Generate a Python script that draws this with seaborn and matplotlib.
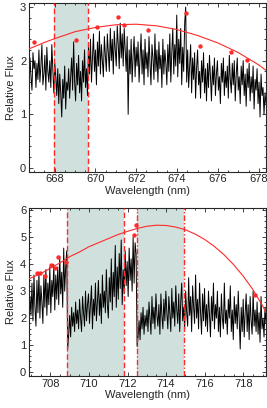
import numpy as np
import matplotlib
matplotlib.use("Agg")
import matplotlib.pyplot as plt
from matplotlib.ticker import MultipleLocator
import seaborn as sns

# --- panel 1 (668 nm region) ---
wl1_range = (666.75, 678.35)
flux1 = [
    1.55, 2.05, 1.7, 1.45, 2.15, 1.85, 2.0, 1.5, 1.95, 1.65,
    2.2, 1.6, 1.9, 2.3, 1.55, 1.75, 2.1, 1.45, 2.25, 1.8,
    1.6, 2.0, 1.5, 2.3, 1.85, 1.4, 1.95, 1.7, 1.35, 1.85,
    1.2, 1.75, 1.4, 0.95, 1.65, 1.3, 1.9, 1.1, 1.6, 1.45,
    1.85, 1.3, 1.7, 2.05, 1.45, 2.35, 1.6, 1.25, 1.95, 1.55,
    2.1, 1.4, 1.8, 1.25, 2.0, 1.6, 2.2, 1.5, 1.85, 1.35,
    2.25, 1.75, 2.4, 1.6, 2.05, 2.5, 1.8, 2.2, 1.55, 2.35,
    1.9, 2.55, 1.75, 2.3, 2.0, 1.7, 2.45, 2.1, 1.8, 2.5,
    2.15, 1.8, 2.6, 2.0, 2.4, 1.75, 2.55, 2.2, 1.9, 2.65,
    2.3, 1.85, 2.7, 2.05, 2.5, 1.9, 2.6, 2.2, 1.8, 2.45,
    1.0, 2.2, 1.75, 2.4, 1.6, 2.1, 2.45, 1.7, 2.25, 1.9,
    2.35, 1.6, 2.05, 2.5, 1.75, 2.2, 1.55, 2.4, 1.85, 2.15,
    1.7, 2.45, 1.95, 1.55, 2.3, 2.05, 1.65, 2.5, 1.8, 2.2,
    1.6, 2.35, 1.85, 2.1, 1.5, 2.4, 1.75, 2.2, 1.95, 1.55,
    2.3, 1.8, 2.5, 1.6, 2.15, 2.6, 1.75, 2.3, 1.9, 2.85,
    1.7, 2.4, 1.95, 2.6, 1.55, 2.25, 1.8, 2.7, 3.0, 1.6,
    2.2, 1.5, 1.9, 2.3, 1.4, 2.05, 1.65, 2.15, 1.3, 1.85,
    2.2, 1.55, 1.8, 1.3, 2.0, 1.6, 2.15, 1.4, 1.85, 1.25,
    1.95, 1.5, 2.1, 1.7, 1.25, 1.9, 1.55, 2.05, 1.35, 1.75,
    2.0, 1.45, 1.7, 1.2, 1.95, 1.6, 2.05, 1.35, 1.8, 1.5,
    1.9, 1.3, 2.1, 1.65, 1.4, 1.95, 1.55, 2.0, 1.25, 1.75,
    2.05, 1.45, 1.7, 1.2, 1.9, 1.55, 2.0, 1.35, 1.75, 1.15,
    1.85, 1.5, 1.95, 1.25, 1.7, 1.4, 1.9, 1.1, 1.65, 1.45,
    1.85, 1.2, 1.6, 0.95, 1.75, 1.35, 1.5, 1.0, 1.4, 1.2,
]
cont1_wl = [666.75, 667.5, 668, 669, 670, 671, 672, 673, 674, 675, 676, 677, 678, 678.35]
cont1_fl = [2.22, 2.34, 2.41, 2.54, 2.62, 2.67, 2.68, 2.65, 2.58, 2.47, 2.33, 2.15, 1.92, 1.82]
pts1_wl = [666.98, 669.04, 670.09, 671.13, 671.38, 672.58, 674.43, 675.11, 676.64, 677.40]
pts1_fl = [2.34, 2.39, 2.63, 2.81, 2.67, 2.57, 2.89, 2.27, 2.17, 2.02]
band1 = (667.95, 669.65)

# --- panel 2 (708 nm region) ---
wl2_range = (706.9, 719.17)
flux2 = [
    1.6, 2.8, 2.1, 3.3, 1.9, 3.6, 2.4, 1.7, 3.4, 2.2,
    3.7, 2.0, 3.2, 2.6, 1.8, 3.6, 2.4, 3.8, 2.1, 3.3,
    2.5, 3.9, 2.2, 3.4, 2.8, 4.0, 2.3, 3.6, 2.7, 3.9,
    2.5, 4.3, 2.9, 3.7, 2.4, 4.6, 3.0, 3.9, 4.5, 0.85,
    1.4, 2.1, 1.3, 2.4, 1.7, 2.2, 1.5, 2.6, 1.8, 2.3,
    1.6, 2.7, 2.0, 1.5, 2.8, 2.2, 1.7, 3.0, 1.9, 2.5,
    2.9, 1.8, 2.5, 3.2, 1.6, 2.7, 2.1, 3.3, 1.9, 2.6,
    3.4, 2.1, 2.9, 1.8, 3.6, 2.4, 3.0, 2.2, 3.8, 2.5,
    2.0, 3.5, 2.6, 4.2, 2.3, 3.7, 2.8, 4.7, 2.4, 3.9,
    2.7, 4.4, 3.1, 4.9, 2.5, 3.8, 2.9, 4.5, 3.2, 4.1,
    2.8, 4.6, 3.4, 4.2, 3.0, 5.0, 3.3, 4.8, 4.4, 0.95,
    1.3, 1.9, 1.2, 2.2, 1.6, 2.4, 1.4, 2.1, 1.7, 2.3,
    1.5, 2.6, 2.0, 1.4, 2.8, 1.8, 2.4, 1.6, 2.9, 2.1,
    1.7, 2.5, 1.4, 2.9, 2.1, 1.6, 2.7, 1.9, 3.0, 2.2,
    1.6, 2.8, 2.2, 1.5, 3.1, 2.0, 2.6, 1.7, 3.2, 2.3,
    1.8, 2.9, 1.5, 2.6, 3.3, 1.9, 2.4, 1.6, 3.0, 2.2,
    1.7, 3.5, 2.1, 2.8, 1.5, 3.2, 2.4, 1.8, 3.6, 2.0,
    2.7, 1.6, 3.3, 2.2, 1.4, 2.9, 1.9, 3.1, 1.7, 2.5,
    1.5, 3.0, 2.1, 1.3, 2.8, 1.9, 3.3, 1.6, 2.5, 2.0,
    3.0, 1.5, 2.4, 1.3, 2.9, 2.0, 1.6, 3.3, 1.8, 2.3,
    1.4, 2.7, 2.0, 3.2, 1.5, 2.3, 1.2, 2.8, 1.8, 2.5,
    1.6, 3.0, 1.9, 0.85, 2.4, 1.5, 2.7, 1.3, 2.2, 2.9,
    1.5, 2.5, 1.2, 2.8, 1.9, 1.4, 3.0, 1.7, 2.3, 1.5,
    2.6, 1.4, 2.2, 1.1, 2.8, 1.6, 2.0, 1.3, 2.4, 1.8,
]
cont2_wl = [706.9, 707.5, 708.0, 708.5, 709.0, 709.5, 710.0, 710.5, 711.0, 711.5, 712.0,
            712.5, 713.0, 713.5, 714.0, 714.5, 715.0, 715.5, 716.0, 716.5, 717.0, 717.5,
            718.0, 718.5, 719.0, 719.17]
cont2_fl = [3.46, 3.65, 3.85, 4.05, 4.28, 4.45, 4.65, 4.8, 4.95, 5.1, 5.22,
            5.33, 5.41, 5.45, 5.44, 5.38, 5.28, 5.12, 4.92, 4.66, 4.35, 3.98,
            3.55, 3.05, 2.45, 2.2]
pts2_wl = [707.34, 707.49, 707.71, 708.03, 708.27, 708.40, 708.79, 712.32, 712.42, 718.61]
pts2_fl = [3.67, 3.69, 3.58, 3.97, 3.85, 4.28, 4.07, 5.10, 5.47, 2.87]
bands2 = [(708.89, 711.81), (712.47, 714.92)]

sns.set_style("ticks")
plt.rcParams["font.family"] = ["Liberation Sans", "DejaVu Sans"]
plt.rcParams["font.size"] = 8

fig = plt.figure(figsize=(2.67, 4.08), dpi=100)
ax1 = fig.add_axes([29 / 267, 1 - 171.7 / 408, 237 / 267, 168.4 / 408])
ax2 = fig.add_axes([29 / 267, 1 - 376 / 408, 237 / 267, 168.3 / 408])

band_col = "#cfe0dd"
red = "#ff2a2a"


def style(ax, xlim, ylim):
    ax.set_xlim(*xlim)
    ax.set_ylim(*ylim)
    ax.xaxis.set_major_locator(MultipleLocator(2))
    ax.xaxis.set_minor_locator(MultipleLocator(0.5))
    ax.yaxis.set_major_locator(MultipleLocator(1))
    ax.yaxis.set_minor_locator(MultipleLocator(0.2))
    ax.tick_params(which="both", direction="in", top=True, right=True,
                   labelsize=8, width=0.6, pad=2)
    ax.tick_params(which="major", length=3)
    ax.tick_params(which="minor", length=1.5)
    for s in ax.spines.values():
        s.set_linewidth(0.8)
        s.set_visible(True)
    ax.set_xlabel("Wavelength (nm)", fontsize=8, labelpad=1)
    ax.set_ylabel("Relative Flux", fontsize=8, labelpad=3)


# panel 1
ax1.axvspan(*band1, color=band_col, lw=0, zorder=0)
wl1 = np.linspace(wl1_range[0], wl1_range[1], len(flux1))
sns.lineplot(x=wl1, y=flux1, color="black", lw=0.7, ax=ax1, zorder=2)
for v in band1:
    ax1.axvline(v, color=red, lw=1.0, ls=(0, (4, 2)), zorder=3)
sns.lineplot(x=cont1_wl, y=cont1_fl, color=red, lw=0.8, ax=ax1, zorder=4)
sns.scatterplot(x=pts1_wl, y=pts1_fl, color=red, s=10, linewidth=0, ax=ax1, zorder=5)
style(ax1, wl1_range, (-0.07, 3.07))

# panel 2
for b in bands2:
    ax2.axvspan(*b, color=band_col, lw=0, zorder=0)
wl2 = np.linspace(wl2_range[0], wl2_range[1], len(flux2))
sns.lineplot(x=wl2, y=flux2, color="black", lw=0.7, ax=ax2, zorder=2)
ax2.axvline(bands2[0][0], color=red, lw=1.0, ls=(0, (4, 2)), zorder=3)
ax2.axvline(bands2[0][1], color=red, lw=1.0, ls=(0, (4, 2)), zorder=3)
ax2.axvline(bands2[1][0], color=red, lw=1.0, ls=(0, (4, 1.5, 1, 1.5)), zorder=3)
ax2.axvline(bands2[1][1], color=red, lw=1.0, ls=(0, (4, 1.5, 1, 1.5)), zorder=3)
sns.lineplot(x=cont2_wl, y=cont2_fl, color=red, lw=0.8, ax=ax2, zorder=4)
sns.scatterplot(x=pts2_wl, y=pts2_fl, color=red, s=10, linewidth=0, ax=ax2, zorder=5)
style(ax2, wl2_range, (-0.15, 6.1))

fig.savefig("out.png", dpi=100)
